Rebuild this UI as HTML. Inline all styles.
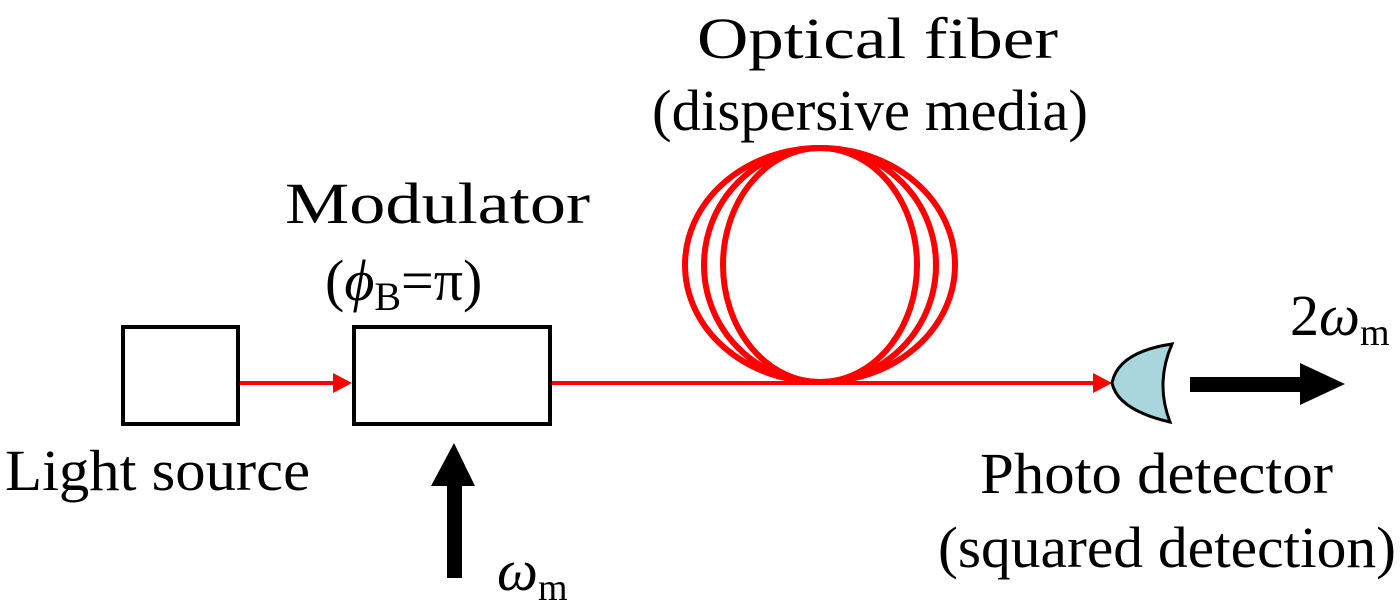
<!DOCTYPE html>
<html><head><meta charset="utf-8"><style>
html,body{margin:0;padding:0;background:#fff;}
svg{display:block;}
text{font-family:"Liberation Serif","Times New Roman",serif;fill:#000;}
</style></head><body>
<svg width="1400" height="609" viewBox="0 0 1400 609" xmlns="http://www.w3.org/2000/svg">
<g fill="none" stroke="#f00" stroke-width="6">
<ellipse cx="820" cy="265" rx="135" ry="117"/>
<ellipse cx="820" cy="265" rx="116" ry="117"/>
<ellipse cx="820" cy="265" rx="97" ry="117"/>
</g>
<rect x="123" y="327" width="115" height="97" fill="none" stroke="#000" stroke-width="4"/>
<rect x="354" y="327" width="196" height="97" fill="none" stroke="#000" stroke-width="4"/>
<line x1="240" y1="383" x2="335" y2="383" stroke="#f00" stroke-width="4"/>
<polygon points="352,383 333,373 333,393" fill="#f00"/>
<line x1="552" y1="383" x2="1095" y2="383" stroke="#f00" stroke-width="4"/>
<polygon points="1112,383 1093,373 1093,393" fill="#f00"/>
<path d="M1172,344 Q1155,383 1170,422 Q1118,410 1112,383 Q1118,352 1172,344 Z" fill="#a9d6dd" stroke="#000" stroke-width="3"/>
<rect x="1190" y="377" width="114" height="15" fill="#000"/>
<polygon points="1345,384 1300,363 1300,405" fill="#000"/>
<rect x="447" y="483" width="15" height="95" fill="#000"/>
<polygon points="454,443 431,486 475,486" fill="#000"/>
<text x="697" y="58" font-size="58" textLength="361" lengthAdjust="spacingAndGlyphs">Optical fiber</text>
<text x="652" y="130" font-size="58" textLength="436" lengthAdjust="spacingAndGlyphs">(dispersive media)</text>
<text x="285" y="223" font-size="58" textLength="305" lengthAdjust="spacingAndGlyphs">Modulator</text>
<text x="325" y="300" font-size="58">(<tspan font-style="italic">ϕ</tspan><tspan font-size="40" dy="10">B</tspan><tspan dy="-10">=π)</tspan></text>
<text x="5" y="490" font-size="58" textLength="305" lengthAdjust="spacingAndGlyphs">Light source</text>
<text x="980" y="493" font-size="58" textLength="353" lengthAdjust="spacingAndGlyphs">Photo detector</text>
<text x="938" y="567" font-size="58" textLength="458" lengthAdjust="spacingAndGlyphs">(squared detection)</text>
<text x="497" y="590" font-size="58" font-style="italic">ω<tspan font-style="normal" font-size="38" dy="10">m</tspan></text>
<text x="1290" y="335" font-size="58">2<tspan font-style="italic">ω</tspan><tspan font-size="38" dy="10">m</tspan></text>
</svg>
</body></html>
